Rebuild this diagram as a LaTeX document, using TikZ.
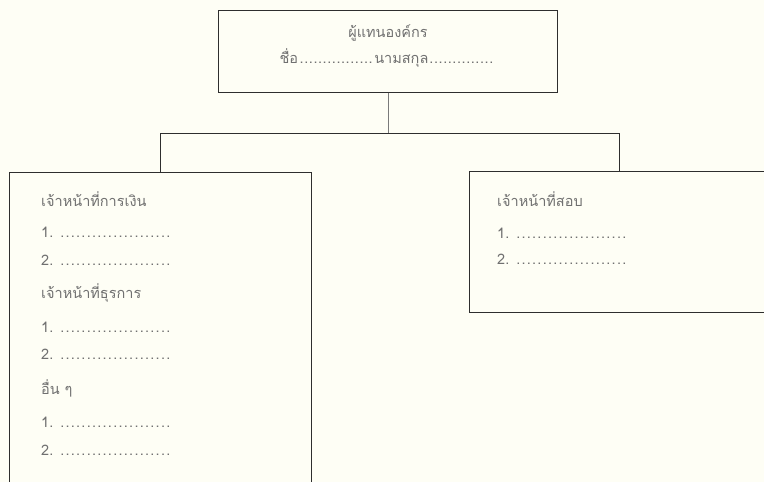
\documentclass[tikz,border=0pt]{standalone}
\usepackage{fontspec}
\newfontfamily\thai[Script=Thai]{Loma}
\definecolor{paper}{HTML}{FEFEF5}
\definecolor{edge}{HTML}{2E2E2E}
\definecolor{stem}{HTML}{7A7A7A}
\definecolor{ink}{HTML}{707070}
% a row of evenly spaced dots: width, dot pitch
\newcommand\dotrow[2]{\hbox to #1{\cleaders\hbox to #2{\hss.\hss}\hfill}}
\newcommand\blank{\dotrow{112pt}{5.3pt}}
\tikzset{
  box/.style={draw=edge, line width=1pt, fill=paper, inner sep=0pt, anchor=north west},
  lbl/.style={anchor=west, inner sep=0pt, text=ink, font=\thai\fontsize{14.5}{16}\selectfont},
  ttl/.style={anchor=center, inner sep=0pt, text=ink, font=\thai\fontsize{14.5}{16}\selectfont},
  link/.style={draw=edge, line width=1pt}
}
\begin{document}
\begin{tikzpicture}[x=1pt,y=-1pt]
  \fill[paper] (0,0) rectangle (764,482);
  \useasboundingbox (0,0) rectangle (764,482);

  % boxes
  \node[box, minimum width=339pt, minimum height=82pt] (top) at (218,9.5) {};
  \node[box, minimum width=302pt, minimum height=340pt] (left) at (9,172) {};
  \node[box, minimum width=300pt, minimum height=141pt] (right) at (469,171) {};

  % connectors
  \draw[link, draw=stem] (top.south) -- ++(0,41) coordinate (j);
  \draw[link] (left.north) |- (j) -| (right.north);

  % top box text
  \node[ttl] (t1) at (388,33) {ผู้แทนองค์กร};
  \node[ttl] (t2) at (387,58) {ชื่อ\dotrow{76pt}{4.6pt}นามสกุล\dotrow{66pt}{4.6pt}};

  % left box text
  \node[lbl] (a0) at (41,199) {เจ้าหน้าที่การเงิน};
  \node[lbl] (a1) at (41,232) {1.\hspace{6pt}\blank};
  \node[lbl] (a2) at (41,260) {2.\hspace{6pt}\blank};
  \node[lbl] (b0) at (41,293) {เจ้าหน้าที่ธุรการ};
  \node[lbl] (b1) at (41,327) {1.\hspace{6pt}\blank};
  \node[lbl] (b2) at (41,354) {2.\hspace{6pt}\blank};
  \node[lbl] (c0) at (41,388) {อื่น ๆ};
  \node[lbl] (c1) at (41,422) {1.\hspace{6pt}\blank};
  \node[lbl] (c2) at (41,450) {2.\hspace{6pt}\blank};

  % right box text
  \node[lbl] (d0) at (497,199) {เจ้าหน้าที่สอบ};
  \node[lbl] (d1) at (497,233) {1.\hspace{6pt}\blank};
  \node[lbl] (d2) at (497,259) {2.\hspace{6pt}\blank};
\end{tikzpicture}
\end{document}
